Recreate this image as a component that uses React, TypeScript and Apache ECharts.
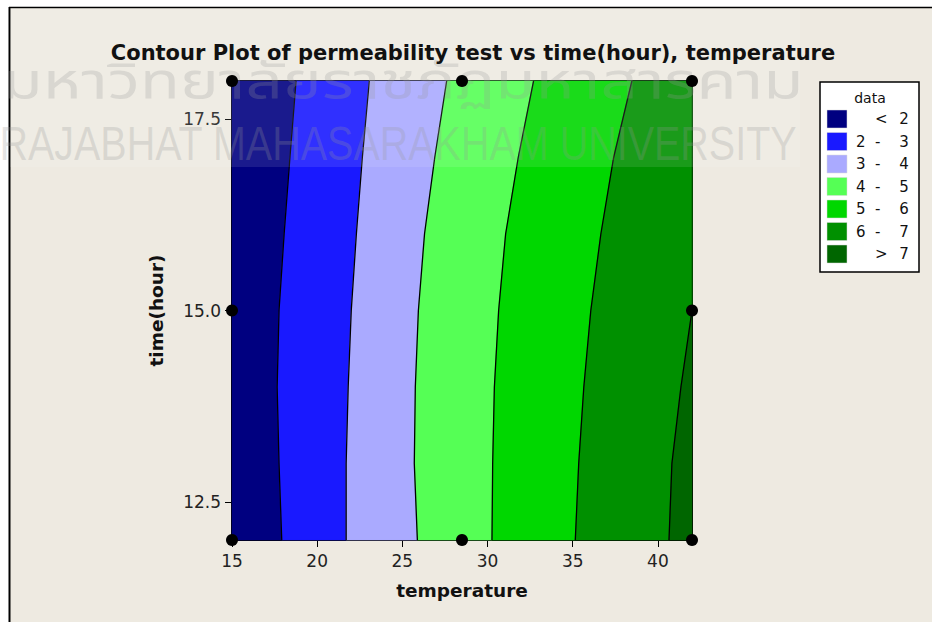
import React, { useEffect, useRef } from "react";
import * as echarts from "echarts";

// ---- data ----
const timeSteps = [12, 13, 14, 15, 16, 17, 18];
// temperature at which each contour level crosses each time step (null = outside plot, right side)
const contour2 = [17.92, 17.76, 17.65, 17.76, 18.06, 18.4, 18.76];
const contour3 = [21.7, 21.7, 21.82, 22.0, 22.3, 22.65, 23.06];
const contour4 = [25.88, 25.7, 25.76, 25.94, 26.3, 26.9, 27.6];
const contour5 = [30.26, 30.3, 30.4, 30.65, 31.06, 31.8, 32.7];
const contour6 = [35.15, 35.35, 35.65, 36.06, 36.65, 37.4, 38.47];
const contour7: (number | null)[] = [40.65, 40.82, 41.35, 42.0, null, null, null];
const contours = [contour2, contour3, contour4, contour5, contour6, contour7];

const bandFrom = ["", "2", "3", "4", "5", "6", ""];
const bandTo = ["2", "3", "4", "5", "6", "7", "7"];
const bandSign = ["<", "-", "-", "-", "-", "-", ">"];
const bandColors = ["#000080", "#1919FF", "#AAAAFF", "#55FF55", "#00D700", "#009000", "#006600"];

const designTemps = [15, 15, 15, 28.5, 28.5, 42, 42, 42];
const designTimes = [12, 15, 18, 12, 18, 12, 15, 18];

const xTicks = [15, 20, 25, 30, 35, 40];
const yTicks = [12.5, 15, 17.5];
const X_MIN = 15;
const X_MAX = 42;
const Y_MIN = 12;
const Y_MAX = 18;

const FONT = "DejaVu Sans";

function boundary(i: number): number[] {
  // i = 0 -> left edge, 1..6 -> contours, 7 -> right edge
  if (i <= 0) return timeSteps.map(() => X_MIN);
  if (i >= contours.length + 1) return timeSteps.map(() => X_MAX);
  return contours[i - 1].map((v) => (v == null ? X_MAX : Math.max(X_MIN, Math.min(X_MAX, v))));
}

export default function App() {
  const ref = useRef<HTMLDivElement>(null);
  useEffect(() => {
    if (!ref.current) return;
    const chart = echarts.init(ref.current, null, { renderer: "svg" });

    const legendX = 820;
    const legendY = 82;
    const rowY0 = 119;
    const rowStep = 22.5;
    const legendEls: any[] = [
      {
        type: "rect",
        shape: { x: legendX, y: legendY, width: 99, height: 190 },
        style: { fill: "#ffffff", stroke: "#000000", lineWidth: 1.5 },
        z: 10,
      },
      {
        type: "text",
        x: 870,
        y: 98,
        style: { text: "data", font: `14px '${FONT}'`, fill: "#111", align: "center", verticalAlign: "middle" },
        z: 11,
      },
    ];
    bandColors.forEach((c, i) => {
      const y = rowY0 + i * rowStep;
      legendEls.push({
        type: "rect",
        shape: { x: 827, y: y - 9, width: 20, height: 18 },
        style: { fill: c, stroke: "#d8d8d8", lineWidth: 0.5 },
        z: 11,
      });
      const left = bandFrom[i] ? `${bandFrom[i]}  ${bandSign[i]}` : bandSign[i];
      legendEls.push({
        type: "text",
        x: bandFrom[i] ? 856 : 875,
        y,
        style: { text: left, font: `15px '${FONT}'`, fill: "#111", align: "left", verticalAlign: "middle" },
        z: 11,
      });
      legendEls.push({
        type: "text",
        x: 904,
        y,
        style: { text: bandTo[i], font: `15px '${FONT}'`, fill: "#111", align: "center", verticalAlign: "middle" },
        z: 11,
      });
    });

    const option: any = {
      animation: false,
      backgroundColor: "#ffffff",
      grid: { left: 232, top: 81, width: 460, height: 459, containLabel: false },
      xAxis: [
        {
          type: "value",
          min: X_MIN,
          max: X_MAX,
          name: "temperature",
          nameLocation: "middle",
          nameGap: 41,
          nameTextStyle: { fontFamily: FONT, fontWeight: "bold", fontSize: 18.5, color: "#111" },
          axisLine: { show: true, onZero: false, lineStyle: { color: "#000", width: 2 } },
          axisTick: { show: true, length: 7, customValues: xTicks, lineStyle: { color: "#000", width: 1 } },
          axisLabel: {
            customValues: xTicks,
            margin: 12,
            fontFamily: FONT,
            fontSize: 17,
            color: "#222",
          },
          splitLine: { show: false },
        },
        {
          type: "value",
          position: "top",
          min: X_MIN,
          max: X_MAX,
          axisLine: { show: true, onZero: false, lineStyle: { color: "#000", width: 2 } },
          axisTick: { show: false },
          axisLabel: { show: false },
          splitLine: { show: false },
        },
      ],
      yAxis: [
        {
          type: "value",
          min: Y_MIN,
          max: Y_MAX,
          name: "time(hour)",
          nameLocation: "middle",
          nameGap: 66,
          nameTextStyle: { fontFamily: FONT, fontWeight: "bold", fontSize: 18.5, color: "#111" },
          axisLine: { show: true, onZero: false, lineStyle: { color: "#000", width: 2 } },
          axisTick: { show: true, length: 7, customValues: yTicks, lineStyle: { color: "#000", width: 1 } },
          axisLabel: {
            customValues: yTicks,
            margin: 11,
            fontFamily: FONT,
            fontSize: 17,
            color: "#222",
            formatter: (v: number) => v.toFixed(1),
          },
          splitLine: { show: false },
        },
        {
          type: "value",
          position: "right",
          min: Y_MIN,
          max: Y_MAX,
          axisLine: { show: true, onZero: false, lineStyle: { color: "#000", width: 2 } },
          axisTick: { show: false },
          axisLabel: { show: false },
          splitLine: { show: false },
        },
      ],
      graphic: [
        {
          type: "rect",
          shape: { x: 10, y: 8, width: 922, height: 614 },
          style: { fill: "#EEEAE1" },
          z: -10,
          silent: true,
        },
        {
          type: "line",
          shape: { x1: 9, y1: 7.5, x2: 932, y2: 7.5 },
          style: { stroke: "#000", lineWidth: 1.5 },
          z: -9,
        },
        {
          type: "line",
          shape: { x1: 9.5, y1: 7, x2: 9.5, y2: 622 },
          style: { stroke: "#000", lineWidth: 2 },
          z: -9,
        },
        {
          type: "text",
          x: 473,
          y: 53,
          style: {
            text: "Contour Plot of permeability test vs time(hour), temperature",
            font: `bold 21px '${FONT}'`,
            fill: "#111",
            align: "center",
            verticalAlign: "middle",
          },
          z: 5,
        },
        ...legendEls,
        // watermark overlay
        {
          type: "rect",
          shape: { x: 10, y: 8, width: 790, height: 159 },
          style: { fill: "rgba(255,255,255,0.10)" },
          z: 3.5,
          silent: true,
        },
        {
          type: "text",
          x: 403,
          y: 84,
          scaleY: 0.76,
          style: {
            text: "มหาวิทยาลัยราชภัฏมหาสารคาม",
            font: "65.5px 'Noto Sans Thai', 'Loma', 'Garuda', sans-serif",
            fill: "rgba(150,150,150,0.25)",
            align: "center",
            verticalAlign: "middle",
          },
          z: 3.6,
          silent: true,
        },
        {
          type: "text",
          x: 398,
          y: 143,
          scaleY: 1.21,
          style: {
            text: "RAJABHAT MAHASARAKHAM UNIVERSITY",
            font: "39.5px 'Liberation Sans', sans-serif",
            fill: "rgba(150,150,150,0.25)",
            align: "center",
            verticalAlign: "middle",
          },
          z: 3.6,
          silent: true,
        },
      ],
      series: [
        {
          type: "custom",
          name: "bands",
          xAxisIndex: 0,
          yAxisIndex: 0,
          data: bandColors.map((_, i) => [i]),
          renderItem: (params: any, api: any) => {
            const i = params.dataIndex;
            const left = boundary(i);
            const right = boundary(i + 1);
            const pts: number[][] = [];
            for (let k = 0; k < timeSteps.length; k++) pts.push(api.coord([left[k], timeSteps[k]]));
            for (let k = timeSteps.length - 1; k >= 0; k--) pts.push(api.coord([right[k], timeSteps[k]]));
            return {
              type: "polygon",
              shape: { points: pts },
              style: { fill: bandColors[i], stroke: bandColors[i], lineWidth: 0.6 },
            };
          },
          z: 2,
          silent: true,
        },
        {
          type: "custom",
          name: "contours",
          xAxisIndex: 0,
          yAxisIndex: 0,
          data: contours.map((_, i) => [i]),
          renderItem: (params: any, api: any) => {
            const c = contours[params.dataIndex];
            const pts: number[][] = [];
            for (let k = 0; k < timeSteps.length; k++) {
              const v = c[k];
              if (v == null) continue;
              pts.push(api.coord([Math.min(X_MAX, v), timeSteps[k]]));
            }
            return {
              type: "polyline",
              shape: { points: pts },
              style: { fill: "none", stroke: "#000", lineWidth: 1.3 },
            };
          },
          z: 3,
          silent: true,
        },
        {
          type: "scatter",
          name: "design points",
          xAxisIndex: 0,
          yAxisIndex: 0,
          data: designTemps.map((t, i) => [t, designTimes[i]]),
          symbol: "circle",
          symbolSize: 12,
          itemStyle: { color: "#000", opacity: 1 },
          clip: false,
          z: 4,
        },
      ],
    };
    chart.setOption(option);
    return () => chart.dispose();
  }, []);
  return (
    <div
      ref={ref}
      style={{ position: "absolute", left: 0, top: 0, width: 932, height: 622 }}
    />
  );
}
